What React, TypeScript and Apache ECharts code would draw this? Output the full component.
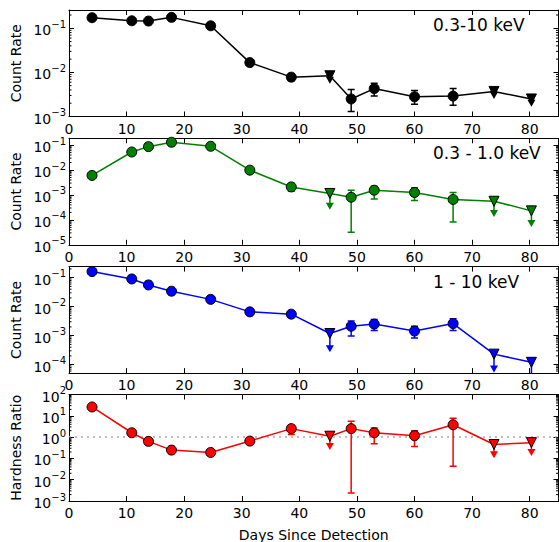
import React, { useEffect, useRef } from "react";
import * as echarts from "echarts";

// ---------- data ----------
const days = [4.0, 10.9, 13.8, 17.8, 24.6, 31.4, 38.6, 45.3, 49.0, 53.0, 60.0, 66.7, 73.8, 80.3];
const isUpperLimit = [false, false, false, false, false, false, false, true, false, false, false, false, true, true];

// 0.3-10 keV
const rateTotal = [0.174, 0.148, 0.146, 0.177, 0.114, 0.0167, 0.0078, 0.0084, 0.0025, 0.0043, 0.0028, 0.0029, 0.0037, 0.0025];
const rateTotalErrLo = [null, null, null, null, null, null, 0.0065, null, 0.0013, 0.0029, 0.0019, 0.0018, null, null];
const rateTotalErrHi = [null, null, null, null, null, null, 0.0091, null, 0.0041, 0.0057, 0.0039, 0.0043, null, null];
const rateTotalLimitEnd = [null, null, null, null, null, null, null, 0.0066, null, null, null, null, 0.003, 0.002];

// 0.3 - 1.0 keV
const rateSoft = [0.0061, 0.053, 0.087, 0.13, 0.09, 0.0099, 0.0021, 0.00115, 0.00081, 0.00155, 0.00126, 0.00066, 0.00056, 0.00023];
const rateSoftErrLo = [null, null, null, null, null, null, 0.0014, null, 0.000032, 0.00069, 0.0006, 0.000083, null, null];
const rateSoftErrHi = [null, null, null, null, null, null, 0.0029, null, 0.00155, 0.00226, 0.00194, 0.00126, null, null];
const rateSoftLimitEnd = [null, null, null, null, null, null, null, 0.00035, null, null, null, null, 0.00018, 0.000071];

// 1 - 10 keV
const rateHard = [0.162, 0.09, 0.056, 0.034, 0.0178, 0.0066, 0.0055, 0.00118, 0.0021, 0.0025, 0.00144, 0.0026, 0.00023, 0.00012];
const rateHardErrLo = [null, null, null, null, null, null, null, null, 0.00098, 0.0015, 0.00083, 0.0015, null, null];
const rateHardErrHi = [null, null, null, null, null, null, null, null, 0.0032, 0.0036, 0.0021, 0.0038, null, null];
const rateHardLimitEnd = [null, null, null, null, null, null, null, 0.00035, null, null, null, null, 0.000071, 0.000038];

// Hardness ratio
const hardness = [26, 1.6, 0.63, 0.245, 0.19, 0.65, 2.5, 1.1, 2.5, 1.6, 1.16, 3.8, 0.45, 0.55];
const hardnessErrLo = [null, null, null, null, null, null, 1.34, null, 0.0024, 0.49, 0.36, 0.043, null, null];
const hardnessErrHi = [null, null, null, null, null, null, 3.6, null, 5.5, 2.66, 2.0, 7.6, null, null];
const hardnessLimitEnd = [null, null, null, null, null, null, null, 0.36, null, null, null, null, 0.15, 0.19];

const xTicks = [0, 10, 20, 30, 40, 50, 60, 70, 80];
const panelLabels = ["0.3-10 keV", "0.3 - 1.0 keV", "1 - 10 keV", ""];
const yNames = ["Count Rate", "Count Rate", "Count Rate", "Hardness Ratio"];
const xName = "Days Since Detection";

const FONT = '"DejaVu Sans", "Liberation Sans", sans-serif';

const panels = [
  { vals: rateTotal, lo: rateTotalErrLo, hi: rateTotalErrHi, lim: rateTotalLimitEnd, color: "#000000", yMin: 0.001, yMax: 0.26 },
  { vals: rateSoft, lo: rateSoftErrLo, hi: rateSoftErrHi, lim: rateSoftLimitEnd, color: "#008000", yMin: 0.00001, yMax: 0.188 },
  { vals: rateHard, lo: rateHardErrLo, hi: rateHardErrHi, lim: rateHardLimitEnd, color: "#0000ff", yMin: 0.000051, yMax: 0.24 },
  { vals: hardness, lo: hardnessErrLo, hi: hardnessErrHi, lim: hardnessLimitEnd, color: "#ff0000", yMin: 0.001, yMax: 100 },
];

const tops = [10, 138.3, 266.6, 394.5];
const PH = 106.5;
const GL = 69;
const GW = 489.5;
const XMAX = 85;

function fmtLog(v: number) {
  const e = Math.log10(v);
  const r = Math.round(e);
  if (Math.abs(e - r) > 1e-6) return "";
  const s = r < 0 ? "\u2212" + -r : String(r);
  return `{b|10}{s|${s}}`;
}

function minorTicks(min: number, max: number) {
  const out: number[] = [];
  for (let n = Math.floor(Math.log10(min)); n <= Math.ceil(Math.log10(max)); n++) {
    for (let m = 2; m <= 9; m++) {
      const v = m * Math.pow(10, n);
      if (v > min && v < max) out.push(v);
    }
  }
  return out;
}

function buildOption() {
  const grid: any[] = [];
  const xAxis: any[] = [];
  const yAxis: any[] = [];
  const series: any[] = [];

  panels.forEach((p, i) => {
    grid.push({ left: GL, top: tops[i], width: GW, height: PH, outerBoundsMode: "none" });
    const xBase = {
      gridIndex: i,
      type: "value",
      min: 0,
      max: XMAX,
      interval: 10,
      splitLine: { show: false },
      axisLine: { show: true, onZero: false, lineStyle: { color: "#000", width: 1 } },
      axisTick: { show: true, inside: true, length: 5, lineStyle: { color: "#000", width: 1 } },
    };
    xAxis.push({
      ...xBase,
      position: "bottom",
      axisLabel: {
        show: true,
        fontSize: 14,
        fontFamily: FONT,
        color: "#000",
        margin: 5,
        showMaxLabel: false,
        formatter: (v: number) => (xTicks.indexOf(v) >= 0 ? String(v) : ""),
      },
    });
    xAxis.push({ ...xBase, position: "top", axisLabel: { show: false } });

    const yBase = {
      gridIndex: i,
      type: "log",
      logBase: 10,
      min: p.yMin,
      max: p.yMax,
      splitLine: { show: false },
      axisLine: { show: true, onZero: false, lineStyle: { color: "#000", width: 1 } },
      axisTick: { show: true, inside: true, length: 5, lineStyle: { color: "#000", width: 1 } },
    };
    yAxis.push({
      ...yBase,
      position: "left",
      name: yNames[i],
      nameLocation: "middle",
      nameGap: 44,
      nameTextStyle: { fontSize: 14, fontFamily: FONT, color: "#000" },
      axisLabel: {
        show: true,
        margin: 3,
        formatter: fmtLog,
        rich: {
          b: { fontSize: 14, fontFamily: FONT, color: "#000", lineHeight: 18, verticalAlign: "bottom" },
          s: { fontSize: 10, fontFamily: FONT, color: "#000", lineHeight: 18, verticalAlign: "top" },
        },
      },
    });
    yAxis.push({ ...yBase, position: "right", axisLabel: { show: false } });

    const xi = 2 * i;
    const yi = 2 * i;

    // minor ticks on log axes (left & right spines)
    series.push({
      type: "custom",
      xAxisIndex: xi,
      yAxisIndex: yi,
      silent: true,
      clip: false,
      z: 1,
      data: minorTicks(p.yMin, p.yMax).map((v) => [0, v]),
      encode: { x: 0, y: 1 },
      renderItem: (params: any, api: any) => {
        const v = api.value(1);
        const l = api.coord([0, v]);
        const r = api.coord([XMAX, v]);
        const st = { stroke: "#000", lineWidth: 1 };
        return {
          type: "group",
          children: [
            { type: "line", shape: { x1: l[0], y1: l[1], x2: l[0] + 2.5, y2: l[1] }, style: st },
            { type: "line", shape: { x1: r[0] - 2.5, y1: r[1], x2: r[0], y2: r[1] }, style: st },
          ],
        };
      },
    });

    // error bars
    const errData: number[][] = [];
    days.forEach((d, k) => {
      if (p.lo[k] != null && p.hi[k] != null) errData.push([d, p.lo[k] as number, p.hi[k] as number]);
    });
    series.push({
      type: "custom",
      xAxisIndex: xi,
      yAxisIndex: yi,
      silent: true,
      clip: true,
      z: 2,
      data: errData,
      encode: { x: 0, y: [1, 2] },
      renderItem: (params: any, api: any) => {
        const x = api.value(0);
        const a = api.coord([x, api.value(1)]);
        const b = api.coord([x, api.value(2)]);
        const cw = 3.5;
        const st = { stroke: p.color, lineWidth: 1.5 };
        return {
          type: "group",
          children: [
            { type: "line", shape: { x1: a[0], y1: a[1], x2: b[0], y2: b[1] }, style: st },
            { type: "line", shape: { x1: a[0] - cw, y1: a[1], x2: a[0] + cw, y2: a[1] }, style: st },
            { type: "line", shape: { x1: b[0] - cw, y1: b[1], x2: b[0] + cw, y2: b[1] }, style: st },
          ],
        };
      },
    });

    // upper-limit arrows
    const limData: number[][] = [];
    days.forEach((d, k) => {
      if (isUpperLimit[k] && p.lim[k] != null) limData.push([d, p.vals[k], p.lim[k] as number]);
    });
    series.push({
      type: "custom",
      xAxisIndex: xi,
      yAxisIndex: yi,
      silent: true,
      clip: true,
      z: 2,
      data: limData,
      encode: { x: 0, y: [1, 2] },
      renderItem: (params: any, api: any) => {
        const x = api.value(0);
        const a = api.coord([x, api.value(1)]);
        const b = api.coord([x, api.value(2)]);
        return {
          type: "group",
          children: [
            { type: "line", shape: { x1: a[0], y1: a[1], x2: b[0], y2: b[1] }, style: { stroke: p.color, lineWidth: 1.5 } },
            {
              type: "polygon",
              shape: { points: [[b[0] - 4, b[1] - 3.5], [b[0] + 4, b[1] - 3.5], [b[0], b[1] + 3.5]] },
              style: { fill: p.color, stroke: "none" },
            },
          ],
        };
      },
    });

    // main line with markers
    const lineSeries: any = {
      type: "line",
      xAxisIndex: xi,
      yAxisIndex: yi,
      z: 3,
      data: days.map((d, k) => ({
        value: [d, p.vals[k]],
        symbol: isUpperLimit[k] ? "triangle" : "circle",
        symbolRotate: isUpperLimit[k] ? 180 : 0,
      })),
      symbolSize: 10,
      showAllSymbol: true,
      lineStyle: { color: p.color, width: 1.5 },
      itemStyle: { color: p.color, borderColor: "#000", borderWidth: 1 },
      emphasis: { disabled: true },
    };
    if (i === 3) {
      lineSeries.markLine = {
        silent: true,
        symbol: ["none", "none"],
        label: { show: false },
        lineStyle: { type: [2, 4], color: "#aaaaaa", width: 1.5 },
        data: [{ yAxis: 1 }],
        z: 1,
      };
    }
    series.push(lineSeries);
  });

  const graphic: any[] = [];
  panelLabels.forEach((t, i) => {
    if (!t) return;
    graphic.push({
      type: "text",
      x: 433,
      y: tops[i] + 15,
      style: { text: t, font: `17px ${FONT}`, fill: "#000", align: "left", verticalAlign: "middle" },
    });
  });
  graphic.push({
    type: "text",
    x: GL + GW / 2,
    y: 535,
    style: { text: xName, font: `14px ${FONT}`, fill: "#000", align: "center", verticalAlign: "middle" },
  });

  return {
    animation: false,
    backgroundColor: "#ffffff",
    grid,
    xAxis,
    yAxis,
    series,
    graphic,
  };
}

export default function App() {
  const ref = useRef<HTMLDivElement>(null);
  useEffect(() => {
    if (!ref.current) return;
    const chart = echarts.init(ref.current, null, { renderer: "svg" });
    chart.setOption(buildOption() as any);
    return () => chart.dispose();
  }, []);
  return <div ref={ref} style={{ position: "fixed", left: 0, top: 0, width: 559, height: 542, background: "#fff" }} />;
}
